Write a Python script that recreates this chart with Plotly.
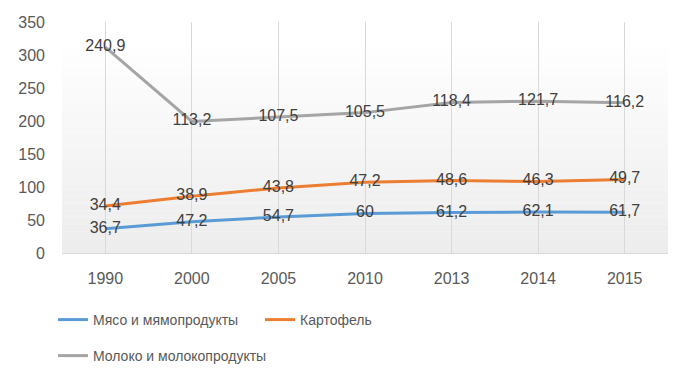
import plotly.graph_objects as go

years = ["1990", "2000", "2005", "2010", "2013", "2014", "2015"]
meat = [36.7, 47.2, 54.7, 60, 61.2, 62.1, 61.7]
potato = [34.4, 38.9, 43.8, 47.2, 48.6, 46.3, 49.7]
milk = [240.9, 113.2, 107.5, 105.5, 118.4, 121.7, 116.2]
names = ["Мясо и мямопродукты", "Картофель", "Молоко и молокопродукты"]
colors = ["#5b9bd5", "#ed7d31", "#a5a5a5"]
legends = ["legend", "legend", "legend2"]
y_ticks = [0, 50, 100, 150, 200, 250, 300, 350]

FONT = "Liberation Sans, Arial"
W, H = 684, 376  # page body adds 8px margin

def fmt(v):
    return ("%g" % v).replace(".", ",")

fig = go.Figure()
for name, vals, col, lg in zip(names, [meat, potato, milk], colors, legends):
    fig.add_trace(go.Scatter(
        x=years, y=vals, name=name, stackgroup="one", fill="none",
        mode="lines+text", line=dict(color=col, width=3),
        text=[fmt(v) for v in vals], textposition="middle center",
        textfont=dict(family=FONT, size=16, color="#404040"),
        hoverinfo="skip", legend=lg,
    ))

# subtle vertical gradient in plot area
n = 30
for i in range(n):
    t = i / (n - 1)
    c = int(237 + (255 - 237) * t)
    fig.add_shape(type="rect", xref="paper", yref="paper",
                  x0=0, x1=1, y0=i / n * 0.92, y1=(i + 1) / n * 0.92,
                  fillcolor=f"rgb({c},{c},{c})", line=dict(width=0), layer="below")

legfont = dict(family=FONT, size=14, color="#595959")
fig.update_layout(
    width=W, height=H,
    margin=dict(l=54, r=24, t=14, b=131),
    paper_bgcolor="white", plot_bgcolor="rgba(0,0,0,0)",
    font=dict(family=FONT, size=16, color="#595959"),
    showlegend=True,
    legend=dict(orientation="h", xref="container", yref="container",
                x=45 / W, xanchor="left", y=1 - 312 / H, yanchor="middle",
                entrywidth=162, itemwidth=30, font=legfont,
                bgcolor="rgba(0,0,0,0)"),
    legend2=dict(orientation="h", xref="container", yref="container",
                 x=45 / W, xanchor="left", y=1 - 348 / H, yanchor="middle",
                 itemwidth=30, font=legfont, bgcolor="rgba(0,0,0,0)"),
    xaxis=dict(type="category", range=[-0.5, 6.5], showgrid=True,
               gridcolor="#d9d9d9", gridwidth=1, automargin=False,
               showline=True, linecolor="#d9d9d9", ticks="", zeroline=False,
               ticklabelstandoff=11,
               tickfont=dict(family=FONT, size=16, color="#595959")),
    yaxis=dict(range=[0, 350], tickvals=y_ticks, showgrid=False, zeroline=False,
               showline=False, ticks="", ticklabelstandoff=16, automargin=False,
               tickfont=dict(family=FONT, size=16, color="#595959")),
)

fig.write_html("out.html")
